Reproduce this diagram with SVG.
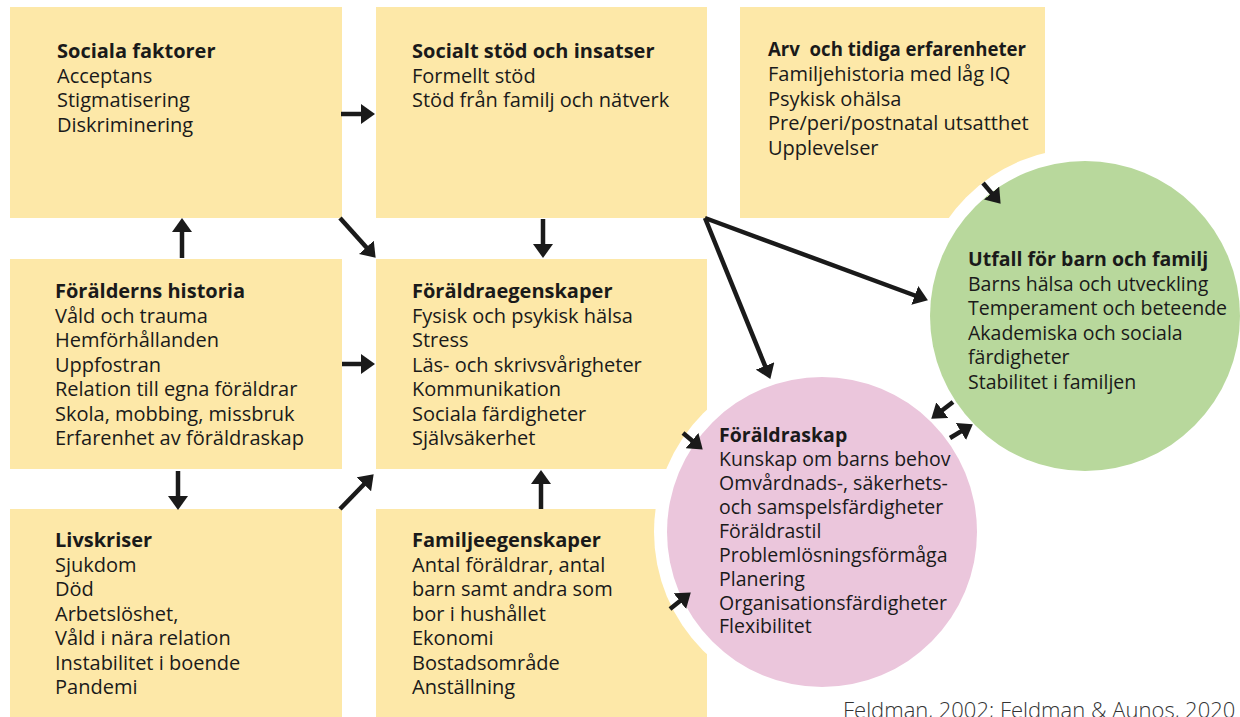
<svg xmlns="http://www.w3.org/2000/svg" width="1240" height="717" viewBox="0 0 1240 717">
<style>
.box{fill:#fde8a8}
.ring{fill:#ffffff}
.pink{fill:#ebc6dc}
.green{fill:#b8d89c}
text{font-family:"Open Sans","Noto Sans",sans-serif;font-size:20px;fill:#1a1a1a}
.t{font-weight:bold}
.g text{font-size:19.5px}
.cite{font-size:22px;font-weight:300;fill:#333333}
.arr{stroke:#1a1a1a;stroke-width:4.5;fill:none;marker-end:url(#ah)}
</style>
<defs>
<marker id="ah" markerUnits="userSpaceOnUse" markerWidth="14" markerHeight="20" viewBox="0 0 14 20" refX="3" refY="10" orient="auto">
<path d="M0,0 L14,10 L0,20 z" fill="#1a1a1a"/>
</marker>
</defs>
<rect width="1240" height="717" fill="#ffffff"/>

<g id="sociala-faktorer">
<rect class="box" x="10" y="7" width="332" height="211"/>
<text x="57" y="58" class="t">Sociala faktorer</text>
<text x="57" y="82.5">Acceptans</text>
<text x="57" y="107">Stigmatisering</text>
<text x="57" y="132">Diskriminering</text>
</g>

<g id="socialt-stod">
<rect class="box" x="376" y="7" width="331" height="211"/>
<text x="412" y="58" class="t">Socialt stöd och insatser</text>
<text x="412" y="82.5">Formellt stöd</text>
<text x="412" y="107">Stöd från familj och nätverk</text>
</g>

<g id="arv">
<rect class="box" x="740" y="7" width="305" height="211"/>
<text x="768" y="56" class="t" textLength="258" lengthAdjust="spacingAndGlyphs">Arv&#160; och tidiga erfarenheter</text>
<text x="768" y="81">Familjehistoria med låg IQ</text>
<text x="768" y="105.5">Psykisk ohälsa</text>
<text x="768" y="130">Pre/peri/postnatal utsatthet</text>
<text x="768" y="155">Upplevelser</text>
</g>

<g id="foralderns-historia">
<rect class="box" x="10" y="259" width="332" height="210"/>
<text x="55" y="298" class="t">Förälderns historia</text>
<text x="55" y="322.5">Våld och trauma</text>
<text x="55" y="347">Hemförhållanden</text>
<text x="55" y="371.5">Uppfostran</text>
<text x="55" y="396">Relation till egna föräldrar</text>
<text x="55" y="420.5">Skola, mobbing, missbruk</text>
<text x="55" y="445">Erfarenhet av föräldraskap</text>
</g>

<g id="foraldraegenskaper">
<rect class="box" x="376" y="259" width="331" height="210"/>
<text x="412" y="298" class="t">Föräldraegenskaper</text>
<text x="412" y="322.5">Fysisk och psykisk hälsa</text>
<text x="412" y="347">Stress</text>
<text x="412" y="371.5">Läs- och skrivsvårigheter</text>
<text x="412" y="396">Kommunikation</text>
<text x="412" y="420.5">Sociala färdigheter</text>
<text x="412" y="445">Självsäkerhet</text>
</g>

<g id="livskriser">
<rect class="box" x="10" y="509" width="332" height="208"/>
<text x="55" y="547" class="t">Livskriser</text>
<text x="55" y="571.5">Sjukdom</text>
<text x="55" y="596">Död</text>
<text x="55" y="620.5">Arbetslöshet,</text>
<text x="55" y="645">Våld i nära relation</text>
<text x="55" y="669.5">Instabilitet i boende</text>
<text x="55" y="694">Pandemi</text>
</g>

<g id="familjeegenskaper">
<rect class="box" x="376" y="509" width="331" height="208"/>
<text x="412" y="547" class="t">Familjeegenskaper</text>
<text x="412" y="571.5">Antal föräldrar, antal</text>
<text x="412" y="596">barn samt andra som</text>
<text x="412" y="620.5">bor i hushållet</text>
<text x="412" y="645">Ekonomi</text>
<text x="412" y="669.5">Bostadsområde</text>
<text x="412" y="694">Anställning</text>
</g>

<g id="utfall" class="g">
<circle class="ring" cx="1085" cy="316" r="168"/>
<circle class="green" cx="1085" cy="316" r="155"/>
<text x="968" y="266" class="t">Utfall för barn och familj</text>
<text x="968" y="290.5">Barns hälsa och utveckling</text>
<text x="968" y="315">Temperament och beteende</text>
<text x="968" y="339.5">Akademiska och sociala</text>
<text x="968" y="364">färdigheter</text>
<text x="968" y="388.5">Stabilitet i familjen</text>
</g>

<g id="foraldraskap" class="g">
<circle class="ring" cx="822" cy="532" r="168"/>
<circle class="pink" cx="822" cy="532" r="155"/>
<text x="719" y="442" class="t">Föräldraskap</text>
<text x="719" y="466">Kunskap om barns behov</text>
<text x="719" y="490">Omvårdnads-, säkerhets-</text>
<text x="719" y="514">och samspelsfärdigheter</text>
<text x="719" y="537.5">Föräldrastil</text>
<text x="719" y="561.5">Problemlösningsförmåga</text>
<text x="719" y="585.5">Planering</text>
<text x="719" y="609.5">Organisationsfärdigheter</text>
<text x="719" y="633">Flexibilitet</text>
</g>

<g id="citation">
<text x="843" y="718" class="cite">Feldman, 2002; Feldman &amp; Aunos, 2020</text>
</g>

<g id="connectors">
<line class="arr" x1="341" y1="114" x2="364" y2="114"/>
<line class="arr" x1="340" y1="218" x2="368.3" y2="249.6"/>
<line class="arr" x1="182" y1="258" x2="182" y2="229"/>
<line class="arr" x1="543" y1="219" x2="543" y2="247"/>
<line class="arr" x1="705" y1="218" x2="917.6" y2="296.5"/>
<line class="arr" x1="705" y1="218" x2="766.2" y2="368.7"/>
<line class="arr" x1="983" y1="183" x2="993.5" y2="195.4"/>
<line class="arr" x1="342" y1="364" x2="364" y2="364"/>
<line class="arr" x1="178" y1="471" x2="178" y2="499"/>
<line class="arr" x1="340" y1="509" x2="366" y2="482.2"/>
<line class="arr" x1="541" y1="509" x2="541" y2="481"/>
<line class="arr" x1="683" y1="433" x2="694.3" y2="442.5"/>
<line class="arr" x1="670" y1="609" x2="682.2" y2="599.3"/>
<line class="arr" x1="953" y1="402" x2="940" y2="412"/>
<line class="arr" x1="950" y1="438" x2="963.4" y2="429.9"/>
</g>
</svg>
